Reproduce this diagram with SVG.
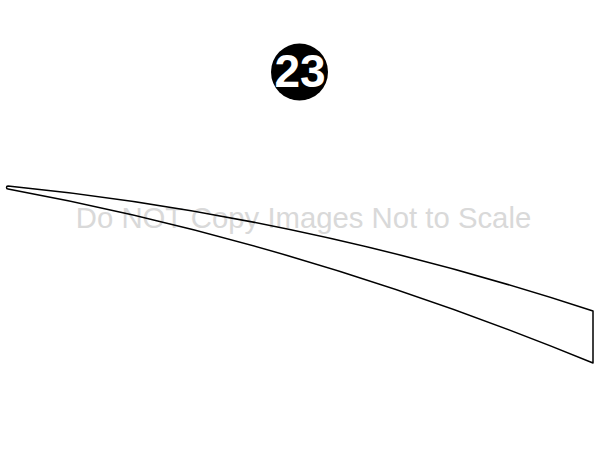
<svg xmlns="http://www.w3.org/2000/svg" width="600" height="450" viewBox="0 0 600 450">
<style>
.wm{font-family:"Liberation Sans",Arial,sans-serif;font-size:29.3px;fill:#d9d9d9}
.part{fill:none;stroke:#000;stroke-width:1.5;stroke-linejoin:round}
.badge{fill:#000}
.num{font-family:"Liberation Sans",Arial,sans-serif;font-weight:bold;font-size:46px;fill:#fff}
</style>
<rect width="600" height="450" fill="#fff"/>
<text class="wm" x="303.5" y="228" text-anchor="middle">Do NOT Copy Images Not to Scale</text>
<g id="badge-23">
<circle class="badge" cx="299.5" cy="72" r="28.5"/>
<text class="num" x="300" y="87" text-anchor="middle">23</text>
</g>
<g id="stripe">
<path class="part" d="M8,186 Q300.5,215 593,311 L593,363 Q300,242.6 8,189 A1.5,1.5 0 0 1 8,186 Z"/>
</g>
</svg>
